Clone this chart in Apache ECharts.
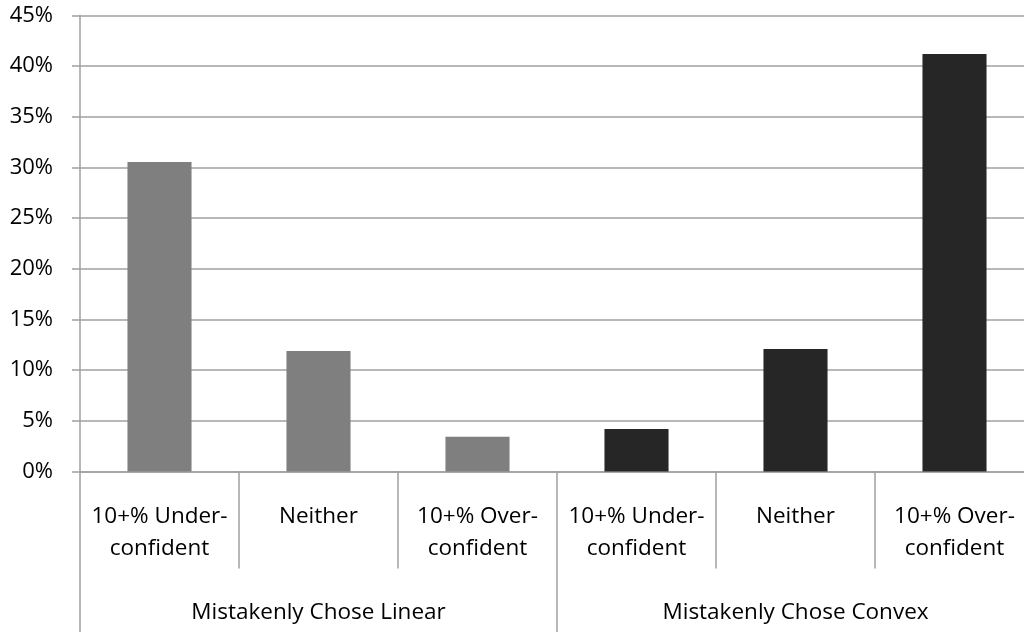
<!DOCTYPE html>
<html>
<head>
<meta charset="utf-8">
<script src="https://cdn.jsdelivr.net/npm/echarts@6/dist/echarts.min.js"></script>
<style>html,body{margin:0;padding:0;background:#fff}#c{width:1024px;height:632px}</style>
</head>
<body>
<div id="c"></div>
<script>
const categories = ['10+% Under-\nconfident', 'Neither', '10+% Over-\nconfident', '10+% Under-\nconfident', 'Neither', '10+% Over-\nconfident'];
const groups = ['Mistakenly Chose Linear', 'Mistakenly Chose Convex'];
const values = [30.55, 11.9, 3.43, 4.2, 12.1, 41.2];
const barColors = ['#7f7f7f', '#7f7f7f', '#7f7f7f', '#262626', '#262626', '#262626'];
const yTicks = { min: 0, max: 45, interval: 5 };

const FONT = '"Open Sans"';
const lineCol = '#a0a0a0';
const chart = echarts.init(document.getElementById('c'), null, { renderer: 'canvas' });
chart.setOption({
  animation: false,
  backgroundColor: '#fff',
  grid: { left: 80, width: 954, top: 15.5, bottom: 160.5, containLabel: false, outerBoundsMode: 'none' },
  xAxis: [
    {
      type: 'category', data: categories, position: 'bottom',
      axisLine: { show: true, lineStyle: { color: lineCol, width: 1.5 } },
      axisTick: { show: true, interval: 0, length: 97, lineStyle: { color: lineCol, width: 1.5 } },
      axisLabel: { interval: 0, margin: 29, color: '#000', fontFamily: FONT, fontSize: 22.5, lineHeight: 32 },
      splitLine: { show: false }
    },
    {
      type: 'category', data: groups, position: 'bottom',
      axisLine: { show: false },
      axisTick: { show: true, interval: 0, length: 170, lineStyle: { color: lineCol, width: 1.5 } },
      axisLabel: { interval: 0, margin: 130, color: '#000', fontFamily: FONT, fontSize: 22.5 },
      splitLine: { show: false }
    }
  ],
  yAxis: {
    type: 'value', min: yTicks.min, max: yTicks.max, interval: yTicks.interval,
    axisLine: { show: true, lineStyle: { color: lineCol, width: 1.5 } },
    axisTick: { show: true, length: 8, lineStyle: { color: lineCol, width: 1.5 } },
    axisLabel: { formatter: '{value}%', margin: 27, color: '#000', fontFamily: FONT, fontSize: 22 },
    splitLine: { show: true, lineStyle: { color: lineCol, width: 1.5 } }
  },
  series: [{
    type: 'bar', xAxisIndex: 0, barWidth: '40.3%',
    data: values.map((v, i) => ({ value: v, itemStyle: { color: barColors[i] } }))
  }]
});
</script>
</body>
</html>
